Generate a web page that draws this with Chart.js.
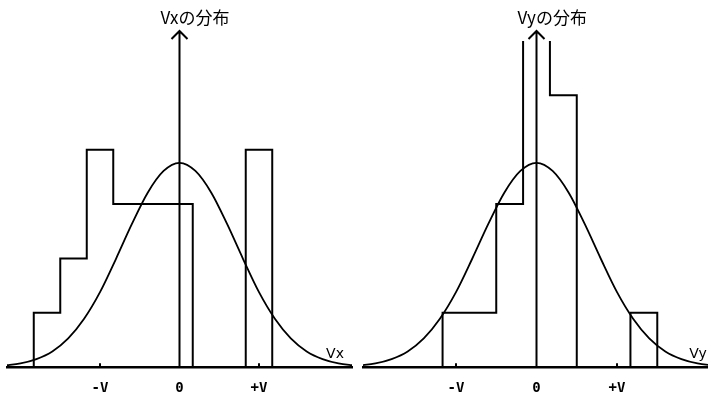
<!DOCTYPE html>
<html>
<head>
<meta charset="utf-8">
<script src="https://cdn.jsdelivr.net/npm/chart.js@4"></script>
<style>
  html, body { margin: 0; padding: 0; background: #fff; }
  #wrap { position: relative; width: 708px; height: 403px; overflow: hidden; }
  .pane { position: absolute; top: 0; width: 354px; height: 403px; }
</style>
</head>
<body>
<div id="wrap">
  <div class="pane" style="left:0"><canvas id="cx" width="354" height="403"></canvas></div>
  <div class="pane" style="left:354px"><canvas id="cy" width="354" height="403"></canvas></div>
</div>
<script>
// Histogram bins: centres in units of V/3, counts per bin
const vxBins   = [-5, -4, -3, -2, -1, 0, 1, 2, 3];
const vxCounts = [ 1,  2,  4,  3,  3, 3, 0, 0, 4];
const vyBins   = [-3, -2, -1, 0, 1, 2, 3, 4];
const vyCounts = [ 1,  1,  3, 9, 5, 0, 0, 1];

// Smooth distribution curve (x in units of V, height in counts)
const curveX = [-2.2, -2.0, -1.8, -1.6, -1.4, -1.2, -1.0, -0.8, -0.6, -0.4, -0.2, 0,
                 0.2,  0.4,  0.6,  0.8,  1.0,  1.2,  1.4,  1.6,  1.8,  2.0,  2.2];
const curveY = [0.03, 0.07, 0.15, 0.29, 0.53, 0.89, 1.38, 1.99, 2.63, 3.21, 3.61, 3.76,
                3.61, 3.21, 2.63, 1.99, 1.38, 0.89, 0.53, 0.29, 0.15, 0.07, 0.03];

// Axis ticks
const tickVals   = [-1, 0, 1];
const tickLabels = ['-V', '0', '+V'];

const titles = ['Vxの分布', 'Vyの分布'];
const axisNames = ['Vx', 'Vy'];

function stepPoints(bins, counts) {
  const pts = [];
  const first = (bins[0] - 0.5) / 3;
  pts.push({x: first, y: 0});
  bins.forEach((b, i) => pts.push({x: (b - 0.5) / 3, y: counts[i]}));
  pts.push({x: (bins[bins.length - 1] + 0.5) / 3, y: 0});
  return pts;
}

const decor = {
  id: 'decor',
  afterDatasetsDraw(chart, args, opts) {
    const {ctx, chartArea, scales: {x, y}} = chart;
    const x0 = x.getPixelForValue(0);
    const yb = y.getPixelForValue(0);
    const yt = chartArea.top - 10;
    ctx.save();
    ctx.strokeStyle = '#000';
    ctx.lineWidth = 2;
    ctx.beginPath();
    ctx.moveTo(x0, yb); ctx.lineTo(x0, yt);
    ctx.moveTo(x0 - 8, yt + 8); ctx.lineTo(x0, yt); ctx.lineTo(x0 + 8, yt + 8);
    tickVals.forEach(v => {
      if (v !== 0) {
        const px = x.getPixelForValue(v);
        ctx.moveTo(px, yb); ctx.lineTo(px, yb - 4);
      }
    });
    ctx.stroke();
    ctx.fillStyle = '#000';
    ctx.font = '17px "Noto Sans CJK JP"';
    ctx.textAlign = 'left';
    ctx.textBaseline = 'middle';
    ctx.fillText(opts.title, x0 - 19, 18);
    ctx.font = '14px "DejaVu Sans"';
    ctx.textAlign = 'center';
    ctx.fillText(opts.axisName, chartArea.right - opts.nameOff, yb - 13);
    ctx.restore();
  }
};

function makeChart(id, bins, counts, idx, xmin, xmax, padL, padR, nameOff) {
  return new Chart(document.getElementById(id), {
    type: 'line',
    data: {
      datasets: [
        {
          data: stepPoints(bins, counts),
          borderColor: '#000', borderWidth: 2,
          stepped: 'before', pointRadius: 0, fill: false
        },
        {
          data: curveX.map((v, i) => ({x: v, y: curveY[i]})),
          borderColor: '#000', borderWidth: 1.8,
          cubicInterpolationMode: 'monotone', pointRadius: 0, fill: false
        }
      ]
    },
    options: {
      responsive: false,
      animation: false,
      devicePixelRatio: 1,
      layout: { padding: { left: padL, right: padR, top: 41, bottom: -7 } },
      plugins: {
        legend: { display: false },
        tooltip: { enabled: false },
        decor: { title: titles[idx], axisName: axisNames[idx], nameOff: nameOff }
      },
      scales: {
        x: {
          type: 'linear', min: xmin, max: xmax,
          grid: { display: false, drawTicks: false },
          border: { display: true, color: '#000', width: 2.5 },
          afterBuildTicks: s => { s.ticks = tickVals.map(v => ({value: v})); },
          ticks: {
            autoSkip: false, maxRotation: 0, padding: 13,
            color: '#000',
            font: { family: 'DejaVu Sans Mono', size: 14, weight: 'bold' },
            callback: (val, i) => tickLabels[i]
          }
        },
        y: { display: false, min: 0, max: 6 }
      }
    },
    plugins: [decor]
  });
}

makeChart('cx', vxBins, vxCounts, 0, -2.17, 2.17, 7, 2, 17);
makeChart('cy', vyBins, vyCounts, 1, -2.155, 2.13, 9, 0, 10);
</script>
</body>
</html>
